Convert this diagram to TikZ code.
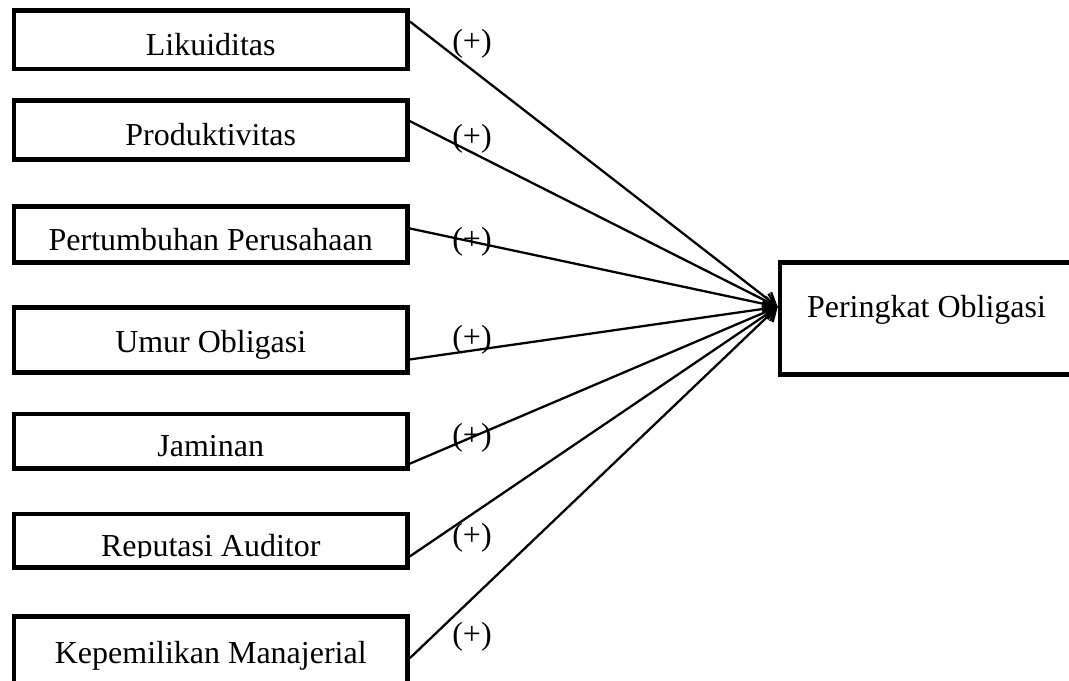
\documentclass[tikz,border=0pt]{standalone}
\usepackage{fontspec}
\setmainfont{Liberation Serif}
\usetikzlibrary{arrows.meta,positioning,calc}
\tikzset{
  >={Straight Barb[length=2.4mm,width=3mm]},
  % variabel
  var/.style={rectangle,draw=black,line width=2.6pt,minimum width=7.87cm,
              inner sep=0pt,text height=18pt,font=\fontsize{18.2}{22}\selectfont},
  dep/.style={var,minimum width=5.86cm,minimum height=2.24cm},
  txt/.style={font=\fontsize{18.2}{22}\selectfont,inner sep=0pt},
  % panah
  hub/.style={->,draw=black,line width=1.3pt},
  tanda/.style={font=\fontsize{18.2}{22}\selectfont,inner sep=0pt},
}
\begin{document}
\begin{tikzpicture}
  \useasboundingbox (0,0) rectangle (21.38,13.62);
  \clip (0,0) rectangle (21.38,13.62);
  \node[var,minimum height=1.17cm] (lik) at (4.215,12.825) {Likuiditas};
  \node[var,minimum height=1.18cm] (pro) at (4.215,11.02) {Produktivitas};
  \node[var,minimum height=1.12cm] (per) at (4.215,8.93) {Pertumbuhan Perusahaan};
  \node[var,minimum height=1.30cm] (umu) at (4.215,6.82) {Umur Obligasi};
  \node[var,minimum height=1.09cm] (jam) at (4.215,4.795) {Jaminan};
  \node[var,minimum height=1.07cm] (rep) at (4.215,2.805) {};
  \begin{scope}
    \clip (rep.north west) rectangle ($(rep.south east)+(0,0.25)$);
    \node[txt,anchor=base] (reptxt) at (4.215,2.48) {Reputasi Auditor};
  \end{scope}
  \node[var,minimum height=1.40cm] (kep) at (4.215,0.59) {Kepemilikan Manajerial};
  \node[dep] (po) at (18.53,7.25) {};
  \node[txt,anchor=base] (potxt) at (18.53,7.26) {Peringkat Obligasi};
  \coordinate (tip) at ($(po.north west)!0.4!(po.south west)$);
  \draw[hub] ($(lik.north east)!0.21!(lik.south east)$) -- (tip);
  \draw[hub] ($(pro.north east)!0.36!(pro.south east)$) -- (tip);
  \draw[hub] ($(per.north east)!0.40!(per.south east)$) -- (tip);
  \draw[hub] ($(umu.north east)!0.78!(umu.south east)$) -- (tip);
  \draw[hub] ($(jam.north east)!0.88!(jam.south east)$) -- (tip);
  \draw[hub] ($(rep.north east)!0.77!(rep.south east)$) -- (tip);
  \draw[hub] ($(kep.north east)!0.59!(kep.south east)$) -- (tip);
  \node[tanda] (t1) at (9.44,12.74) {(+)};
  \node[tanda] (t2) at (9.44,10.85) {(+)};
  \node[tanda] (t3) at (9.44,8.786) {(+)};
  \node[tanda] (t4) at (9.44,6.82) {(+)};
  \node[tanda] (t5) at (9.44,4.86) {(+)};
  \node[tanda] (t6) at (9.44,2.86) {(+)};
  \node[tanda] (t7) at (9.44,0.88) {(+)};
\end{tikzpicture}
\end{document}
